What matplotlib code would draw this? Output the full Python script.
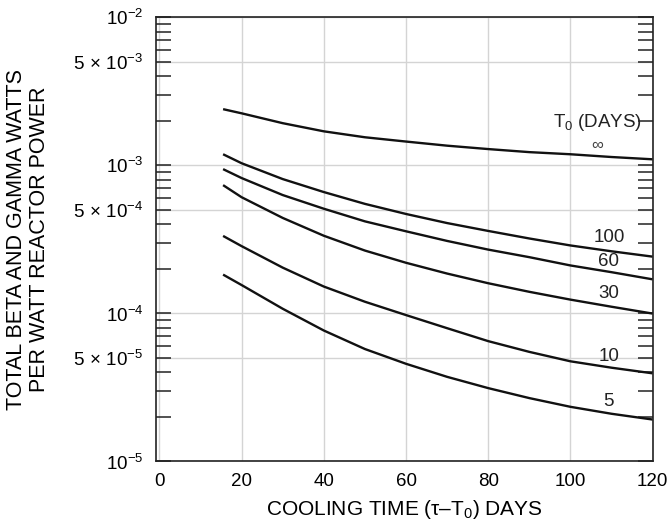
import matplotlib
matplotlib.use("Agg")
import matplotlib.pyplot as plt
from matplotlib.ticker import FixedLocator, LogLocator, NullFormatter, FixedFormatter

plt.rcParams['font.family'] = ['Liberation Sans', 'DejaVu Sans']
plt.rcParams['mathtext.fontset'] = 'custom'
plt.rcParams['mathtext.rm'] = 'Liberation Sans'
plt.rcParams['mathtext.it'] = 'Liberation Sans:italic'
plt.rcParams['mathtext.bf'] = 'Liberation Sans:bold'

# Cooling time (days)
cooling_days = [15.5, 20, 30, 40, 50, 60, 70, 80, 90, 100, 110, 120]

# Total beta+gamma watts per watt reactor power, by irradiation time T0
power_inf = [2.40e-3, 2.25e-3, 1.93e-3, 1.70e-3, 1.55e-3, 1.45e-3, 1.36e-3, 1.29e-3, 1.23e-3, 1.19e-3, 1.14e-3, 1.10e-3]
power_100 = [1.19e-3, 1.035e-3, 8.09e-4, 6.61e-4, 5.50e-4, 4.70e-4, 4.08e-4, 3.61e-4, 3.21e-4, 2.88e-4, 2.63e-4, 2.42e-4]
power_60 = [9.44e-4, 8.22e-4, 6.31e-4, 5.10e-4, 4.19e-4, 3.59e-4, 3.09e-4, 2.70e-4, 2.40e-4, 2.11e-4, 1.90e-4, 1.70e-4]
power_30 = [7.36e-4, 6.10e-4, 4.42e-4, 3.35e-4, 2.66e-4, 2.20e-4, 1.86e-4, 1.60e-4, 1.40e-4, 1.24e-4, 1.11e-4, 9.98e-5]
power_10 = [3.34e-4, 2.85e-4, 2.04e-4, 1.52e-4, 1.20e-4, 9.75e-5, 7.95e-5, 6.5e-5, 5.5e-5, 4.75e-5, 4.3e-5, 3.94e-5]
power_5 = [1.83e-4, 1.556e-4, 1.076e-4, 7.67e-5, 5.75e-5, 4.57e-5, 3.73e-5, 3.13e-5, 2.68e-5, 2.34e-5, 2.10e-5, 1.92e-5]

series = [power_inf, power_100, power_60, power_30, power_10, power_5]

x_ticks = [0, 20, 40, 60, 80, 100, 120]
y_ticks = [1e-5, 5e-5, 1e-4, 5e-4, 1e-3, 5e-3, 1e-2]
y_tick_labels = [r'$10^{-5}$', r'$5\,\times\,10^{-5}$', r'$10^{-4}$', r'$5\,\times\,10^{-4}$',
                 r'$10^{-3}$', r'$5\,\times\,10^{-3}$', r'$10^{-2}$']

# Curve labels: (text, x, y)
curve_labels = [('100', 109.5, 3.24e-4), ('60', 109.3, 2.23e-4), ('30', 109.3, 1.36e-4),
                ('10', 109.5, 5.12e-5), ('5', 109.3, 2.55e-5)]

fig = plt.figure(figsize=(6.69, 5.28), dpi=100)
ax = fig.add_axes([0.2327, 0.126, 0.7429, 0.841])

for s in series:
    ax.plot(cooling_days, s, color='#111111', lw=1.7, solid_capstyle='butt')

ax.set_yscale('log')
ax.set_xlim(-0.9, 120)
ax.set_ylim(1e-5, 1e-2)

ax.yaxis.set_major_locator(FixedLocator(y_ticks))
ax.yaxis.set_major_formatter(FixedFormatter(y_tick_labels))
ax.yaxis.set_minor_locator(LogLocator(base=10, subs=[2, 3, 4, 6, 7, 8, 9]))
ax.yaxis.set_minor_formatter(NullFormatter())
ax.set_xticks(x_ticks)

ax.tick_params(axis='y', which='both', direction='in', left=True, right=True,
               length=11, width=1.1, color='#222222', labelsize=13.5, pad=9)
ax.tick_params(axis='x', which='both', length=0, labelsize=13.5, pad=8)

ax.grid(True, which='major', color='#d4d4d4', lw=1.0)
ax.set_axisbelow(True)
for sp in ax.spines.values():
    sp.set_linewidth(1.2)
    sp.set_color('#222222')

ax.set_xlabel('COOLING TIME (τ–T$_0$) DAYS', fontsize=15, labelpad=6)
ax.set_ylabel('TOTAL BETA AND GAMMA WATTS\nPER WATT REACTOR POWER', fontsize=15.5,
              linespacing=1.15)
ax.yaxis.set_label_coords(-0.212, 0.5)

ax.text(106.6, 1.94e-3, 'T$_0$ (DAYS)', fontsize=13.5, ha='center', va='center', color='#222222')
ax.text(106.6, 1.37e-3, '∞', fontsize=12, ha='center', va='center', color='#444444')
for txt, xx, yy in curve_labels:
    ax.text(xx, yy, txt, fontsize=13.5, ha='center', va='center', color='#222222')

fig.savefig('out.png', dpi=100)
